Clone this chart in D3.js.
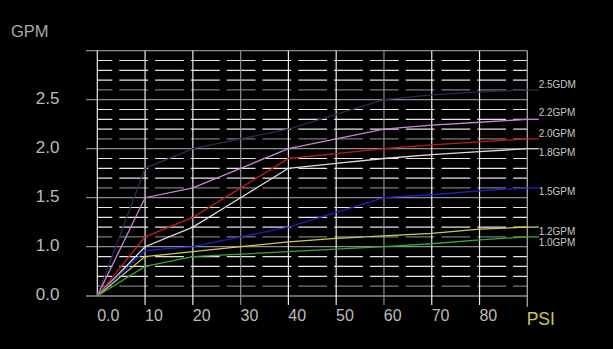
<!DOCTYPE html>
<html>
<head>
<meta charset="utf-8">
<script src="https://cdn.jsdelivr.net/npm/d3@7"></script>
<style>
  html, body { margin: 0; padding: 0; background: #000; }
  svg { display: block; }
  text { font-family: "Liberation Sans", "DejaVu Sans", sans-serif; }
</style>
</head>
<body>
<div class="chart"></div>
<script>
// data
var psi = [0, 10, 20, 30, 40, 50, 60, 70, 80, 90];
var seriesNames = ["2.5GDM", "2.2GPM", "2.0GPM", "1.8GPM", "1.5GPM", "1.2GPM", "1.0GPM"];
var gpm25 = [0, 1.8, 2.0, 2.1, 2.2, 2.35, 2.5, 2.55, 2.58, 2.6];
var gpm22 = [0, 1.5, 1.6, 1.8, 2.0, 2.1, 2.2, 2.24, 2.27, 2.3];
var gpm20 = [0, 1.1, 1.3, 1.6, 1.9, 1.95, 2.0, 2.04, 2.07, 2.1];
var gpm18 = [0, 1.0, 1.2, 1.5, 1.8, 1.85, 1.9, 1.94, 1.97, 2.0];
var gpm15 = [0, 0.92, 1.0, 1.1, 1.2, 1.35, 1.5, 1.53, 1.57, 1.6];
var gpm12 = [0, 0.8, 0.9, 1.0, 1.05, 1.085, 1.11, 1.135, 1.18, 1.2];
var gpm10 = [0, 0.6, 0.8, 0.85, 0.9, 0.95, 1.0, 1.03, 1.07, 1.1];
var xTickValues = [0, 10, 20, 30, 40, 50, 60, 70, 80];
var xTickLabels = ["0.0", "10", "20", "30", "40", "50", "60", "70", "80"];
var yTickValues = [0, 1.0, 1.5, 2.0, 2.5, 3.0];
var yTickLabels = ["0.0", "1.0", "1.5", "2.0", "2.5", ""];

var svgWidth = 613;
var svgHeight = 349;

var svg = d3.select(".chart")
  .append("svg")
  .attr("width", svgWidth)
  .attr("height", svgHeight);

svg.append("rect")
  .attr("width", svgWidth)
  .attr("height", svgHeight)
  .attr("fill", "#000");

// x is linear, y axis squeezes 0..1.0 into one band like the original
var x = d3.scaleLinear().domain([0, 90]).range([97.3, 527.3]);
var y = d3.scaleLinear().domain([0, 1, 3]).range([296, 246.7, 50.7]);

var grid = svg.append("g");

// dashed minor rows, 4 per band, the lowest one greyed
for (var i = 0; i < yTickValues.length - 1; i++) {
  var y0 = y(yTickValues[i]);
  var y1 = y(yTickValues[i + 1]);
  for (var k = 1; k <= 4; k++) {
    var yy = y0 + (y1 - y0) * k / 5;
    grid.append("line")
      .attr("x1", x(0)).attr("x2", x(90))
      .attr("y1", yy).attr("y2", yy)
      .attr("stroke", k === 1 ? "#7a7a7a" : "#e4e4e4")
      .attr("stroke-width", 1.2)
      .attr("stroke-dasharray", "28.8,7")
      .attr("stroke-dashoffset", 13.8);
  }
}

// solid major rows
grid.selectAll(".major")
  .data(yTickValues)
  .enter()
  .append("line")
  .attr("x1", 86).attr("x2", x(90))
  .attr("y1", d => y(d)).attr("y2", d => y(d))
  .attr("stroke", "#8c8c8c")
  .attr("stroke-width", 1.3);

// verticals
grid.selectAll(".vert")
  .data(psi)
  .enter()
  .append("line")
  .attr("x1", d => x(d)).attr("x2", d => x(d))
  .attr("y1", y(3))
  .attr("y2", d => d === 0 ? y(0) : (d === 90 ? 306.7 : 305))
  .attr("stroke", d => (d === 30 || d === 60) ? "#8c8c8c" : (d === 90 ? "#b4b4b4" : "#ececec"))
  .attr("stroke-width", 1.2);

// x axis labels
var bottomAxis = d3.axisBottom(x)
  .tickValues(xTickValues)
  .tickFormat((d, i) => xTickLabels[i])
  .tickSize(0);

var xAxis = svg.append("g")
  .attr("transform", `translate(0, ${y(0)})`)
  .call(bottomAxis);
xAxis.select(".domain").remove();
xAxis.selectAll("text")
  .attr("text-anchor", "start")
  .attr("x", -0.6)
  .attr("y", 24.7)
  .attr("dy", 0)
  .attr("fill", "#bcbcbc")
  .attr("font-size", "16px")
  .attr("font-family", "Liberation Sans, DejaVu Sans, sans-serif");

// y axis labels
var leftAxis = d3.axisLeft(y)
  .tickValues(yTickValues)
  .tickFormat((d, i) => yTickLabels[i])
  .tickSize(0);

var yAxis = svg.append("g")
  .attr("transform", "translate(59.5, 0)")
  .call(leftAxis);
yAxis.select(".domain").remove();
yAxis.selectAll("text")
  .attr("x", 0)
  .attr("dy", 3.4)
  .attr("text-anchor", "end")
  .attr("fill", "#bcbcbc")
  .attr("font-size", "17px")
  .attr("font-family", "Liberation Sans, DejaVu Sans, sans-serif");

// axis titles
svg.append("text")
  .attr("x", 11)
  .attr("y", 36.7)
  .attr("font-size", "16.5px")
  .attr("fill", "#a8a8a8")
  .text("GPM");

svg.append("text")
  .attr("x", 526.7)
  .attr("y", 325)
  .attr("font-size", "17.5px")
  .attr("fill", "#c8c850")
  .text("PSI");

// series
var series = [gpm25, gpm22, gpm20, gpm18, gpm15, gpm12, gpm10];
var colors = ["#2c2c52", "#c486d0", "#c01c1c", "#dcdcdc", "#2020c4", "#cccc50", "#36a836"];
var labelDy = [-6, -7, -5.5, 4, 3.8, 4.2, 5];
var leaderEnd = x(90) + 11.5;

var line = d3.line()
  .x((d, i) => x(psi[i]))
  .y(d => y(d));

series.forEach(function(vals, s) {
  svg.append("path")
    .attr("d", line(vals))
    .attr("fill", "none")
    .attr("stroke", colors[s])
    .attr("stroke-width", 1.3);

  var last = vals[vals.length - 1];
  svg.append("line")
    .attr("x1", x(90)).attr("x2", leaderEnd)
    .attr("y1", y(last)).attr("y2", y(last))
    .attr("stroke", colors[s])
    .attr("stroke-width", 1.3);

  svg.append("text")
    .attr("x", x(90) + 11.4)
    .attr("y", y(last) + labelDy[s] + 3.6)
    .attr("font-size", "10px")
    .attr("fill", "#c8c8c8")
    .text(seriesNames[s]);
});
</script>
</body>
</html>
